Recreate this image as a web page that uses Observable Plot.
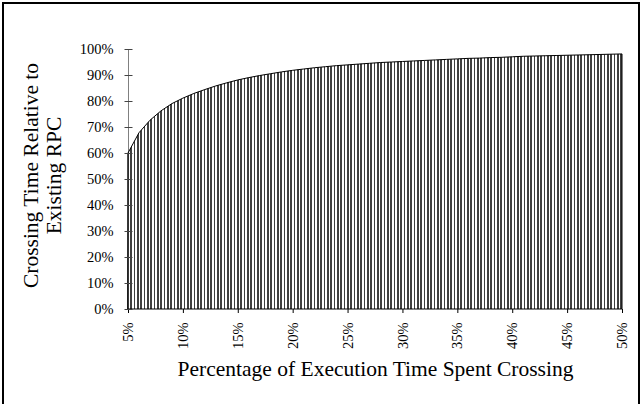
<!DOCTYPE html>
<html><head><meta charset="utf-8">
<script src="https://cdn.jsdelivr.net/npm/d3@7"></script>
<script src="https://cdn.jsdelivr.net/npm/@observablehq/plot@0.6"></script>
<style>
body{margin:0;background:#fff;}
#wrap{position:relative;width:642px;height:404px;overflow:hidden;}
#wrap svg{position:absolute;left:0;top:0;}
#border{position:absolute;left:2px;top:2px;width:634px;height:420px;border:2px solid #000;pointer-events:none;}
</style></head><body><div id="wrap"><div id="border"></div></div>
<script>
// Percentage of execution time spent crossing (x, in %)
const crossingPct = [5,6,7,8,9,10,11,12,13,14,15,16,17,18,19,20,21,22,23,24,25,26,27,28,29,30,31,32,33,34,35,36,37,38,39,40,41,42,43,44,45,46,47,48,49,50];
// Crossing time relative to existing RPC (y, in %)
const relativeTime = [60.0,67.8,72.6,76.2,79.0,81.1,82.9,84.4,85.8,87.0,88.1,89.0,89.8,90.5,91.2,91.8,92.3,92.8,93.2,93.6,93.9,94.2,94.5,94.8,95.0,95.2,95.4,95.6,95.8,96.0,96.2,96.4,96.5,96.7,96.8,97.0,97.2,97.3,97.4,97.5,97.6,97.7,97.8,97.9,98.0,98.1];
const xTicks = [5,10,15,20,25,30,35,40,45,50];
const yTicks = [0,10,20,30,40,50,60,70,80,90,100];
const xTitle = "Percentage of Execution Time Spent Crossing";
const yTitle = "Crossing Time Relative to\nExisting RPC";

const data = crossingPct.map((x, i) => ({x, y: relativeTime[i]}));
const pct = d => d + "%";
const crossTick = {draw(ctx) { ctx.moveTo(-4, 0); ctx.lineTo(4, 0); }};

const chart = Plot.plot({
  width: 642, height: 404,
  marginLeft: 128, marginRight: 20, marginTop: 49, marginBottom: 95,
  style: {fontFamily: "'Liberation Serif','Times New Roman',serif", fontSize: "14.5px", color: "#000", background: "transparent", overflow: "visible"},
  x: {domain: [5, 50], ticks: xTicks, tickFormat: pct, tickSize: 4, tickRotate: -90, tickPadding: 9, label: null},
  y: {domain: [0, 100], ticks: yTicks, tickFormat: pct, tickSize: 0, tickPadding: 15, label: null},
  marks: [
    Plot.ruleX([5], {y1: 0, y2: 100, stroke: "#808080"}),
    Plot.areaY(data, {x: "x", y: "y", fill: "url(#hatch)", stroke: "#000", strokeWidth: 1}),
    Plot.dot(yTicks, {x: 5, y: d => d, symbol: crossTick, stroke: "#444", strokeWidth: 1, r: 4}),
    Plot.text([xTitle], {text: d => d, frameAnchor: "bottom", dy: 60, fontSize: 21.5, textAnchor: "middle", lineAnchor: "middle"}),
    Plot.text([yTitle], {text: d => d, frameAnchor: "left", dx: -86, dy: -4, rotate: -90, fontSize: 21.5, textAnchor: "middle", lineAnchor: "middle", lineHeight: 1.05})
  ]
});

d3.select(chart).insert("defs", ":first-child").html(
  '<pattern id="hatch" patternUnits="userSpaceOnUse" x="0" y="0" width="10" height="10">' +
  '<rect width="10" height="10" fill="#fff"/>' +
  '<rect x="0" width="2" height="10" fill="#404040"/>' +
  '<rect x="4" width="1" height="10" fill="#404040"/>' +
  '<rect x="7" width="2" height="10" fill="#404040"/>' +
  '</pattern>');

document.getElementById("wrap").appendChild(chart);
</script>
</body></html>
